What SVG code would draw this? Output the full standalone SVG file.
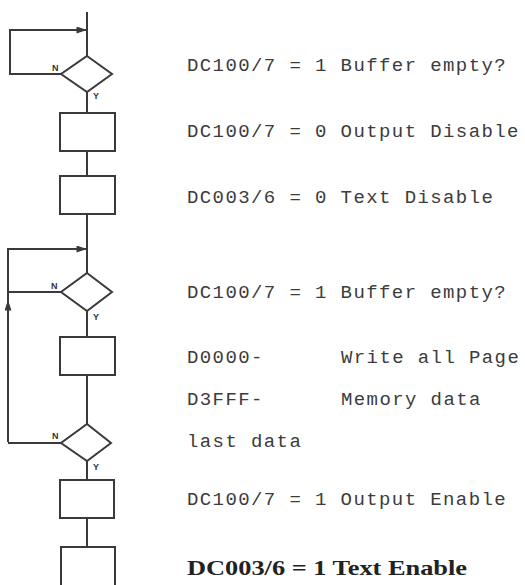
<svg xmlns="http://www.w3.org/2000/svg" width="525" height="585" viewBox="0 0 525 585">
<style>
.ln{fill:none;stroke:#3a3a3a;stroke-width:2}
.sh{fill:#fff;stroke:#3a3a3a;stroke-width:2}
.yn{font-family:"Liberation Sans",Arial,sans-serif;font-size:9px;font-weight:bold;fill:#333}
.tx{font-family:"Liberation Mono","Courier New",monospace;font-size:19px;letter-spacing:1.4px;fill:#3c3c3c}
.bd{font-family:"Liberation Serif","Times New Roman",serif;font-size:21px;font-weight:bold;fill:#222}
</style>
<defs>
<marker id="ah" viewBox="0 0 10 10" refX="10" refY="5" markerWidth="6" markerHeight="6" markerUnits="userSpaceOnUse" orient="auto">
<path d="M0,0 L10,5 L0,10 z" fill="#3a3a3a"/>
</marker>
<marker id="ahl" viewBox="0 0 12 8" refX="12" refY="4" markerWidth="13" markerHeight="7" markerUnits="userSpaceOnUse" orient="auto">
<path d="M0,0 L12,4 L0,8 z" fill="#3a3a3a"/>
</marker>
</defs>
<g id="connectors">
<line class="ln" x1="87" y1="12" x2="87" y2="56"/>
<polyline class="ln" points="61,74 10,74 10,30 87,30" marker-end="url(#ahl)"/>
<line class="ln" x1="87" y1="92" x2="87" y2="113"/>
<line class="ln" x1="87" y1="151" x2="87" y2="176"/>
<line class="ln" x1="87" y1="214" x2="87" y2="273"/>
<polyline class="ln" points="8,442 8,249 87,249" marker-end="url(#ahl)"/>
<line class="ln" x1="8" y1="330" x2="8" y2="300" marker-end="url(#ahl)"/>
<line class="ln" x1="61" y1="292" x2="8" y2="292"/>
<line class="ln" x1="87" y1="311" x2="87" y2="337"/>
<line class="ln" x1="87" y1="375" x2="87" y2="424"/>
<line class="ln" x1="61" y1="443" x2="8" y2="443"/>
<line class="ln" x1="87" y1="461" x2="87" y2="480"/>
<line class="ln" x1="87" y1="518" x2="87" y2="547"/>
</g>
<g id="d1">
<polygon class="sh" points="87,56 112,74 87,92 61,74"/>
<text class="yn" x="52" y="71">N</text>
<text class="yn" x="93" y="99">Y</text>
</g>
<g id="b1"><rect class="sh" x="60" y="113" width="55" height="38"/></g>
<g id="b2"><rect class="sh" x="60" y="176" width="55" height="38"/></g>
<g id="d2">
<polygon class="sh" points="87,273 112,292 87,311 61,292"/>
<text class="yn" x="51" y="289">N</text>
<text class="yn" x="93" y="320">Y</text>
</g>
<g id="b3"><rect class="sh" x="60" y="337" width="55" height="38"/></g>
<g id="d3">
<polygon class="sh" points="87,424 111,443 87,461 61,443"/>
<text class="yn" x="52" y="439">N</text>
<text class="yn" x="93" y="470">Y</text>
</g>
<g id="b4"><rect class="sh" x="60" y="480" width="54" height="38"/></g>
<g id="b5"><rect class="sh" x="61" y="547" width="54" height="50"/></g>
<g id="labels">
<text class="tx" x="187" y="71">DC100/7 = 1 Buffer empty?</text>
<text class="tx" x="187" y="137">DC100/7 = 0 Output Disable</text>
<text class="tx" x="187" y="203">DC003/6 = 0 Text Disable</text>
<text class="tx" x="187" y="298">DC100/7 = 1 Buffer empty?</text>
<text class="tx" x="187" y="363">D0000-</text>
<text class="tx" x="341" y="363">Write all Page</text>
<text class="tx" x="187" y="405">D3FFF-</text>
<text class="tx" x="341" y="405">Memory data</text>
<text class="tx" x="187" y="447">last data</text>
<text class="tx" x="187" y="505">DC100/7 = 1 Output Enable</text>
<text class="bd" x="187" y="575" textLength="280" lengthAdjust="spacingAndGlyphs">DC003/6 = 1 Text Enable</text>
</g>
</svg>
